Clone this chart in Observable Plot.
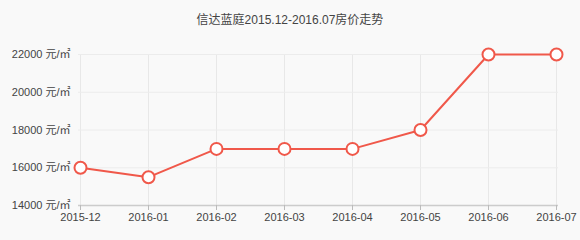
<!DOCTYPE html>
<html><head><meta charset="utf-8">
<script src="https://cdn.jsdelivr.net/npm/d3@7"></script>
<script src="https://cdn.jsdelivr.net/npm/@observablehq/plot@0.6"></script>
<style>
html,body{margin:0;padding:0;background:#f9f9f9;width:580px;height:240px;overflow:hidden;}
#title{font:12px "Liberation Sans","Noto Sans CJK SC",sans-serif;height:40px;line-height:40px;text-align:center;color:#444;}
#chart svg{display:block;}
</style></head>
<body>
<div id="title">信达蓝庭2015.12-2016.07房价走势</div>
<div id="chart"></div>
<script>
const months = ["2015-12","2016-01","2016-02","2016-03","2016-04","2016-05","2016-06","2016-07"];
const prices = [16000,15500,17000,17000,17000,18000,22000,22000];
const yTicks = [14000,16000,18000,20000,22000];
const unit = " 元/㎡";

const data = months.map((m,i)=>({month:m, price:prices[i]}));
const red = "#f0584a";

const chart = Plot.plot({
  width:580, height:200,
  marginTop:14, marginBottom:35, marginLeft:78, marginRight:22,
  style:{background:"transparent", fontFamily:'"Liberation Sans","Noto Sans CJK SC",sans-serif', fontSize:"11px", color:"#444"},
  x:{type:"point", domain:months, padding:0, label:null},
  y:{domain:[14000,22000], label:null},
  marks:[
    Plot.gridX(months,{stroke:"#e8e8e8", strokeOpacity:1}),
    Plot.gridY(yTicks,{stroke:"#ececec", strokeOpacity:1}),
    Plot.ruleY([14000],{stroke:"#cccccc", strokeWidth:1.5}),
    Plot.axisX(months,{tickSize:5, tickPadding:3, stroke:"#bbb", fill:"#444", fontSize:11}),
    Plot.axisY(yTicks,{tickSize:0, tickPadding:8, tickFormat:d=>d+unit, fill:"#444", fontSize:11}),
    Plot.line(data,{x:"month", y:"price", stroke:red, strokeWidth:2}),
    Plot.dot(data,{x:"month", y:"price", r:6, fill:"white", stroke:red, strokeWidth:2})
  ]
});
document.getElementById("chart").appendChild(chart);
</script>
</body></html>
